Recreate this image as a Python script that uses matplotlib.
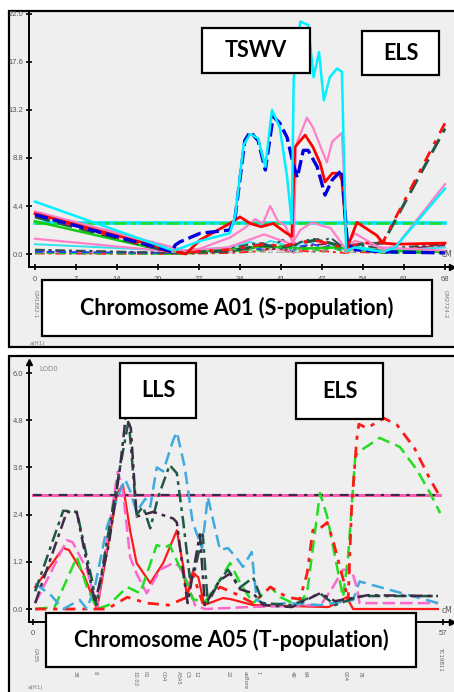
import matplotlib.pyplot as plt
from matplotlib.patches import Rectangle

W, H = 454, 692

# ---------------- chromosome A01 (S-population) ----------------
a01_xticks = [0, 6.8, 13.6, 20.4, 27.2, 34.0, 40.8, 47.6, 54.4, 61.2, 68.0]
a01_xlabels = ["0", "7", "14", "20", "27", "34", "41", "47", "54", "61", "68"]
a01_yticks = [0.0, 4.4, 8.8, 13.2, 17.6, 22.0]
a01_markers = [22.9, 32.3, 35.7, 37.8, 39.0, 40.3, 41.1, 42.0, 42.6, 43.5, 44.0, 46.1, 47.8, 51.4, 52.6, 57.7]
a01_thresh = 2.8

cyan_x = [0, 23, 27.4, 32.3, 33.2, 34.6, 35.7, 37.0, 38.2, 39.3, 40.6, 41.8, 42.6, 42.9, 43.2, 44.0, 45.3,
          46.2, 47.1, 47.9, 48.9, 50.1, 50.9, 51.6, 53.0, 57.7, 59.7, 68]
cyan_y = [4.8, 0.3, 1.2, 1.9, 3.5, 10.0, 11.0, 10.6, 8.0, 13.2, 11.6, 7.1, 2.8, 16.0, 17.5, 21.3, 21.0,
          16.2, 18.5, 14.1, 16.2, 17.0, 16.7, 0.3, 0.6, 0.2, 0.6, 6.0]

blue_x = [0, 22.9, 23.2, 24, 27.4, 32.3, 33.2, 34.8, 35.7, 37.0, 38.2, 39.5, 40.6, 41.8, 42.8, 43.5, 44.5,
          45.3, 46.8, 48.1, 49.3, 50.9, 51.8, 53.0, 57.7, 68]
blue_y = [3.6, 0.2, 0.8, 1.1, 1.9, 2.2, 3.4, 10.4, 11.2, 10.4, 7.7, 12.6, 12.0, 10.7, 8.3, 7.0, 9.5,
          9.5, 8.0, 5.4, 6.8, 7.7, 1.0, 0.4, 0.2, 0.1]

red_x = [0, 25, 27.4, 32.3, 34.0, 35.7, 37.5, 39.5, 41.5, 42.6, 43.1, 44.8, 46.1, 47.3, 48.1, 49.3, 50.4,
         50.9, 51.8, 53.4, 56.7, 57.7, 60, 68]
red_y = [3.7, 0.0, 1.3, 2.8, 3.4, 2.8, 2.5, 2.8, 2.0, 1.6, 9.8, 10.9, 9.8, 8.3, 6.6, 7.4, 7.4,
         6.8, 0.6, 2.9, 1.7, 1.0, 0.9, 1.0]

pink_x = [0, 25, 27.4, 32.3, 34.8, 36.5, 37.8, 39.0, 40.3, 41.5, 42.6, 42.9, 43.3, 45.1, 46.1, 47.1, 48.4,
          49.3, 50.9, 51.8, 53.0, 57.7, 60, 68]
pink_y = [3.9, 0.3, 0.5, 1.5, 2.4, 3.2, 2.8, 4.4, 3.0, 2.6, 1.2, 1.0, 10.0, 12.5, 11.6, 10.2, 8.4,
          10.3, 11.1, 0.8, 1.9, 0.4, 0.8, 6.4]

pink2_x = [0, 23, 32.0, 38.0, 40.0, 42.6, 44.0, 46.0, 47.5, 49.0, 51.6, 53.0, 57.7, 68]
pink2_y = [1.4, 0.2, 0.6, 1.8, 1.4, 0.9, 2.2, 2.9, 2.6, 2.4, 0.4, 1.2, 0.6, 0.3]

els_x = [0, 23, 32.3, 38.0, 41.0, 44.0, 47.0, 51.6, 54.0, 57.7, 68]
els_dkgreen_y = [3.4, 0.1, 0.3, 0.8, 0.6, 1.0, 1.3, 0.6, 0.9, 1.0, 11.5]
els_red_y = [3.6, 0.1, 0.4, 0.9, 0.7, 1.1, 1.2, 0.5, 1.0, 1.1, 12.0]

green_x = [0, 23, 32.0, 38.0, 44.0, 50.0, 57.7, 68]
green_y = [3.0, 0.1, 0.4, 0.7, 0.5, 0.6, 0.3, 0.2]

low_x = [0, 23, 32.3, 35.7, 37.8, 39.0, 41.1, 42.6, 44.0, 46.1, 47.8, 49.0, 51.4, 52.6, 57.7, 68]
low_slate_y = [0.4, 0.1, 0.5, 0.9, 1.0, 0.7, 1.3, 0.6, 1.1, 1.4, 1.2, 1.5, 0.5, 0.9, 0.5, 0.9]
low_blue_y = [0.2, 0.1, 0.3, 0.6, 0.4, 0.8, 0.5, 0.3, 0.7, 0.9, 0.6, 0.8, 0.3, 0.5, 0.2, 0.2]
low_cyan_y = [0.9, 0.3, 0.6, 1.1, 0.8, 1.2, 0.9, 0.4, 1.0, 1.3, 1.1, 0.9, 0.4, 0.7, 0.3, 0.6]
low_green_y = [0.1, 0.0, 0.2, 0.4, 0.3, 0.6, 0.8, 0.3, 0.5, 0.4, 0.3, 0.6, 0.2, 0.4, 0.1, 0.1]
low_plum_y = [0.3, 0.1, 0.2, 0.5, 0.7, 0.4, 0.6, 0.2, 0.6, 0.8, 0.9, 1.0, 0.4, 0.6, 0.3, 0.8]
low_red_y = [0.05, 0.0, 0.1, 0.2, 0.3, 0.5, 0.4, 0.1, 0.3, 0.2, 0.3, 0.2, 0.1, 0.2, 0.1, 0.9]

# ---------------- chromosome A05 (T-population) ----------------
a05_xticks = [0, 57]
a05_yticks = [0.0, 1.2, 2.4, 3.6, 4.8, 6.0]
a05_thresh = 2.9
a05_marker_x = [0.3, 5.8, 8.6, 14.2, 15.6, 18.1, 20.2, 21.5, 22.7, 27.1, 29.5, 31.3, 36.0, 37.8, 43.4, 45.5, 56.6]
a05_marker_names = ["GA35", "38", "8", "10.03", "01", "C04", "A3A5", "C3", "12", "22",
                    "asBore", "1", "49", "64", "004", "78", "TC19B11"]

dkp_x = [0.3, 4.7, 6.1, 8.6, 10.5, 12.1, 12.9, 13.6, 14.4, 16.7, 19.5, 20.0, 20.9, 21.5, 23.2, 23.9, 26.0,
         27.4, 28.8, 30.6, 32.0, 36.0, 39.9, 42.0, 45.0, 46.5, 56.3]
dkp_y = [0.15, 2.47, 2.45, 0.15, 1.6, 3.6, 4.9, 4.6, 2.35, 2.47, 2.3, 2.2, 0.9, 0.15, 1.9, 0.1, 0.74,
         0.9, 0.5, 0.4, 0.1, 0.05, 0.4, 0.2, 0.3, 0.35, 0.33]

dkg_x = [0.3, 4.2, 6.1, 8.2, 8.8, 10.3, 12.1, 13.3, 14.4, 15.3, 16.3, 17.4, 19.0, 20.0, 20.9, 21.8, 22.5,
         23.6, 24.3, 26.0, 27.1, 28.8, 30.6, 32.0, 36.0, 39.9, 42.0, 45.0, 45.9, 56.3]
dkg_y = [0.45, 2.5, 2.47, 0.74, 0.1, 1.75, 3.6, 4.8, 2.4, 2.6, 2.05, 2.85, 3.66, 3.45, 2.2, 0.8, 1.0,
         1.9, 0.15, 0.74, 1.0, 0.55, 0.8, 0.15, 0.1, 0.4, 0.1, 0.3, 0.33, 0.33]

ltb_x = [0.3, 2.5, 4.2, 6.5, 7.5, 8.6, 10.3, 12.1, 12.8, 13.5, 14.4, 15.6, 16.3, 17.2, 18.1, 19.5, 20.0,
         21.1, 22.2, 23.5, 24.3, 26.0, 27.1, 28.3, 29.2, 30.4, 31.1, 32.6, 35.3, 40.0, 44.5, 45.4, 56.3]
ltb_y = [0.65, 0.35, 0.0, 0.23, 0.0, 0.56, 2.1, 3.0, 3.3, 3.0, 2.47, 2.8, 2.6, 3.6, 3.5, 4.3, 4.5,
         3.6, 2.2, 1.55, 2.85, 1.5, 1.55, 1.3, 1.07, 1.45, 0.23, 0.1, 0.15, 0.1, 0.23, 0.7, 0.15]

reds_x = [0.3, 4.2, 5.0, 7.0, 8.9, 11.7, 12.5, 13.5, 14.4, 16.3, 18.1, 20.0, 20.9, 21.4, 22.2, 23.0, 23.8,
          26.4, 27.5, 30.6, 41.1, 43.6, 44.5, 56.3]
reds_y = [0.56, 1.55, 1.5, 0.9, 0.0, 2.95, 3.15, 2.0, 1.17, 0.66, 1.17, 2.0, 1.07, 0.3, 0.94, 0.8, 0.1,
          0.28, 0.25, 0.1, 0.05, 0.3, 0.0, 0.0]

redd_x = [0.3, 10.3, 13.1, 15.8, 18.9, 21.4, 22.2, 23.6, 26.0, 28.0, 30.6, 33.0, 35.3, 37.1, 38.1, 38.9,
          39.9, 40.9, 41.7, 42.7, 43.4, 43.8, 44.3, 45.0, 45.3, 46.4, 48.8, 50.6, 53.0, 55.2, 56.6]
redd_y = [0.0, 0.0, 0.3, 0.15, 0.1, 0.3, 0.9, 0.15, 0.56, 0.4, 0.15, 0.56, 0.3, 0.25, 0.9, 2.0,
          2.05, 2.2, 1.75, 1.05, 0.56, 0.2, 2.6, 4.3, 4.7, 4.6, 4.85, 4.68, 4.1, 3.3, 2.85]

grn_x = [0.3, 3.0, 6.1, 7.5, 8.9, 10.5, 13.1, 14.9, 17.2, 18.2, 19.0, 21.4, 22.2, 23.9, 26.0, 27.4, 28.8,
         30.6, 33.0, 34.4, 36.7, 38.1, 39.9, 40.9, 42.0, 43.1, 43.8, 44.8, 45.3, 48.2, 51.0, 53.4, 55.2, 56.6]
grn_y = [0.0, 0.05, 1.32, 0.56, 0.0, 0.1, 0.56, 0.4, 1.63, 1.55, 1.63, 0.66, 0.25, 0.18, 0.74, 1.17, 0.66,
         0.15, 0.56, 0.3, 0.1, 0.4, 2.95, 2.35, 1.32, 0.3, 1.32, 3.87, 4.0, 4.35, 4.12, 3.53, 2.95, 2.44]

pnk_x = [0.3, 2.4, 4.7, 5.5, 7.5, 8.9, 10.7, 11.8, 12.5, 13.5, 14.4, 15.8, 17.7, 19.5, 20.3, 21.8, 22.5,
         23.9, 30.0, 40.0, 41.7, 43.1, 44.3, 45.0, 45.4, 56.3]
pnk_y = [0.15, 0.9, 1.75, 1.7, 1.0, 0.05, 2.2, 3.5, 3.0, 1.32, 0.9, 0.4, 1.0, 1.17, 1.1, 0.56, 0.1,
         0.0, 0.05, 0.1, 0.56, 1.0, 0.98, 0.56, 0.15, 0.15]


def fr(x0, y0, x1, y1):
    # pixel box -> figure fraction [l, b, w, h]
    return [x0 / W, 1 - y1 / H, (x1 - x0) / W, (y1 - y0) / H]


def frame(fig, x0, y0, x1, y1, fc, lw, z):
    l, b, w, h = fr(x0, y0, x1, y1)
    fig.add_artist(Rectangle((l, b), w, h, transform=fig.transFigure, facecolor=fc,
                             edgecolor="black", linewidth=lw, zorder=z))


def label_box(fig, x0, y0, x1, y1, text, size):
    frame(fig, x0, y0, x1, y1, "white", 1.6, 5)
    fig.text((x0 + x1) / 2 / W, 1 - (y0 + y1) / 2 / H, text, ha="center", va="center",
             fontsize=size, fontweight="bold", family="Lato", zorder=6)


def style_axes(ax):
    ax.set_facecolor("none")
    for s in ["top", "right"]:
        ax.spines[s].set_visible(False)
    for s in ["left", "bottom"]:
        ax.spines[s].set_linewidth(1.4)
    ax.tick_params(direction="inout", length=5, width=1.2, labelsize=5.5, labelcolor="#555555",
                   pad=1.5)
    for t in ax.get_xticklabels() + ax.get_yticklabels():
        t.set_family("Liberation Sans")
    ax.plot(1, 0, ">k", ms=4, transform=ax.transAxes, clip_on=False)


fig = plt.figure(figsize=(W / 100, H / 100), dpi=100)
frame(fig, 9, 11, 470, 347, "#efefef", 1.6, -2)
frame(fig, 9, 356, 470, 710, "#efefef", 1.6, -2)

# ---------- top panel ----------
ax1 = fig.add_axes(fr(29, 12, 452, 267))
ax1.set_xlim(-0.995, 69.16)
ax1.set_ylim(-1.19, 22.18)

ax1.plot([0, 68], [a01_thresh, a01_thresh], color="#00e5ff", lw=2.6)
ax1.plot([0, 68], [a01_thresh, a01_thresh], color="#22dd22", lw=1.8, dashes=(5, 2, 1.5, 2))

ax1.plot(low_x, low_red_y, color="#ff2020", lw=1.4, dashes=(5, 2, 1.5, 2))
ax1.plot(low_x, low_green_y, color="#22cc22", lw=1.4, dashes=(4, 2))
ax1.plot(low_x, low_plum_y, color="#8b1a5a", lw=1.4, dashes=(5, 2, 1.5, 2))
ax1.plot(low_x, low_blue_y, color="#2040ff", lw=1.4, dashes=(4, 2))
ax1.plot(low_x, low_cyan_y, color="#33e0ee", lw=1.4)
ax1.plot(low_x, low_slate_y, color="#2f4f4f", lw=1.4, dashes=(5, 2, 1.5, 2))
ax1.plot(green_x, green_y, color="#11cc11", lw=1.8)
ax1.plot(pink2_x, pink2_y, color="#ff80c8", lw=1.6)
ax1.plot(els_x, els_dkgreen_y, color="#1f5a46", lw=2.2, dashes=(5, 2.5))
ax1.plot(els_x, els_red_y, color="#ff1010", lw=2.0, dashes=(4, 3, 1.5, 3))
ax1.plot(pink_x, pink_y, color="#ff7ec8", lw=1.6)
ax1.plot(red_x, red_y, color="#ff0000", lw=2.0)
ax1.plot(blue_x, blue_y, color="#0000dd", lw=2.4, dashes=(4, 1.5))
ax1.plot(cyan_x, cyan_y, color="#00f0ff", lw=1.8)

ax1.plot(a01_markers, [0.35] * len(a01_markers), "^", ms=3, mfc="none", mec="#aaaaaa", mew=0.6,
         clip_on=False)
ax1.set_xticks(a01_xticks, a01_xlabels)
ax1.set_yticks(a01_yticks, [f"{v:.1f}" for v in a01_yticks])
style_axes(ax1)
ax1.tick_params(axis="x", pad=4)
ax1.text(1.0, 0.04, "cM", transform=ax1.transAxes, fontsize=5.5, color="#555555", ha="right")
ax1.text(0, -0.09, "GM1882-1", transform=ax1.get_xaxis_transform(), rotation=-90, fontsize=4,
         color="#777777", ha="center", va="top")
ax1.text(68, -0.09, "GM2724-2", transform=ax1.get_xaxis_transform(), rotation=-90, fontsize=4,
         color="#777777", ha="center", va="top")
fig.text(30 / W, 1 - 343 / H, "a(H1)", fontsize=4, color="#777777", va="center")

label_box(fig, 202, 28, 310, 73, "TSWV", 15.5)
label_box(fig, 362, 31, 439, 75, "ELS", 15.5)
label_box(fig, 42, 280, 432, 336, "Chromosome A01 (S-population)", 15.5)

# ---------- bottom panel ----------
ax2 = fig.add_axes(fr(29, 362, 452, 622))
ax2.set_xlim(-0.556, 58.25)
ax2.set_ylim(-0.33, 6.28)

ax2.plot([0, 56.6], [a05_thresh, a05_thresh], color="#ff5fb0", lw=2.2)
ax2.plot([0, 56.6], [a05_thresh, a05_thresh], color="#3e2a48", lw=1.6, dashes=(4, 3, 1.5, 3))

ax2.plot(reds_x, reds_y, color="#ff1a1a", lw=1.6)
ax2.plot(pnk_x, pnk_y, color="#ff66cc", lw=1.8, dashes=(5, 2))
ax2.plot(grn_x, grn_y, color="#22dd22", lw=1.8, dashes=(5, 2.5))
ax2.plot(redd_x, redd_y, color="#ff1a1a", lw=2.0, dashes=(4, 2.5, 1.5, 2.5))
ax2.plot(ltb_x, ltb_y, color="#3fa9e0", lw=1.8, dashes=(5, 2.5))
ax2.plot(dkg_x, dkg_y, color="#1d5945", lw=1.8, dashes=(5, 2, 1.5, 2))
ax2.plot(dkp_x, dkp_y, color="#3e2a48", lw=1.8, dashes=(5, 2, 1.5, 2))

ax2.set_xticks(a05_xticks, [str(v) for v in a05_xticks])
ax2.set_yticks(a05_yticks, [f"{v:.1f}" for v in a05_yticks])
style_axes(ax2)
ax2.tick_params(axis="x", pad=3)
ax2.plot(0, 1, "^k", ms=4, transform=ax2.transAxes, clip_on=False)
ax2.text(0.025, 0.985, "LOD0", transform=ax2.transAxes, fontsize=5, color="#888888", va="top")
ax2.text(1.0, 0.035, "cM", transform=ax2.transAxes, fontsize=5.5, color="#555555", ha="right")
# marker names: the outer two sit beside the label box, the rest show below it
for mx, name in zip(a05_marker_x, a05_marker_names):
    ypos = -0.1 if mx < 2 or mx > 55 else -0.19
    ax2.text(mx, ypos, name, transform=ax2.get_xaxis_transform(), rotation=-90, fontsize=3.8,
             color="#666666", ha="center", va="top")
fig.text(28 / W, 1 - 688 / H, "a(H1)", fontsize=4, color="#777777", va="center")

label_box(fig, 120, 363, 196, 418, "LLS", 15.5)
label_box(fig, 296, 363, 383, 419, "ELS", 15.5)
label_box(fig, 46, 613, 416, 667, "Chromosome A05 (T-population)", 15.5)

fig.savefig("out.png", dpi=100)
